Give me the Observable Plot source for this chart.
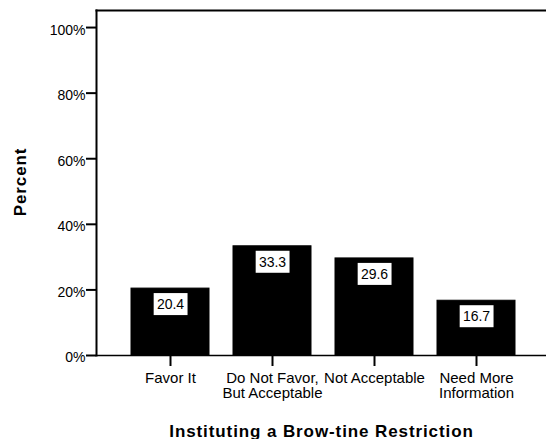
<!DOCTYPE html>
<html>
<head>
<meta charset="utf-8">
<script src="https://cdn.jsdelivr.net/npm/d3@7"></script>
<script src="https://cdn.jsdelivr.net/npm/@observablehq/plot@0.6"></script>
<style>
  html, body { margin: 0; padding: 0; background: #fff; }
  svg { font-family: "Liberation Sans", Arial, sans-serif; }
</style>
</head>
<body>
<div id="chart"></div>
<script>
const categories = ["Favor It", "Do Not Favor,\nBut Acceptable", "Not Acceptable", "Need More\nInformation"];
const percents = [20.4, 33.3, 29.6, 16.7];
const yTicks = [0, 20, 40, 60, 80, 100];
const xTitle = "Instituting a Brow-tine Restriction";
const yTitle = "Percent";

const data = categories.map((c, i) => ({category: c, value: percents[i]}));

const chart = Plot.plot({
  width: 546,
  height: 439,
  marginLeft: 96,
  marginRight: 0,
  marginTop: 10,
  marginBottom: 84,
  style: {fontFamily: "Liberation Sans, Arial, sans-serif", background: "#fff"},
  x: {type: "band", domain: categories, range: [118.8, 528.4], paddingInner: 0.232, paddingOuter: 0.116, label: null},
  y: {domain: [0, 105.2], label: null},
  marks: [
    Plot.barY(data, {x: "category", y: "value", fill: "black", stroke: "black", strokeWidth: 1}),
    Plot.frame({anchor: "top", stroke: "black", strokeWidth: 2}),
    Plot.frame({anchor: "left", stroke: "black", strokeWidth: 2}),
    Plot.frame({anchor: "bottom", stroke: "black", strokeWidth: 1.3}),
    Plot.axisY({ticks: yTicks, tickSize: 10, tickFormat: () => "", strokeWidth: 2, stroke: "black"}),
    Plot.axisY({ticks: yTicks, tickSize: 0, tickPadding: 11, tickFormat: d => d + "%", fontSize: 14, dy: 2.5, fill: "black"}),
    Plot.axisX({tickSize: 11, tickPadding: 5.5, fontSize: 15, strokeWidth: 2, stroke: "black", fill: "black", lineHeight: 1}),
    Plot.text(data, {x: "category", y: "value", text: d => d.value.toFixed(1), dy: 16, fontSize: 14, fill: "black", lineAnchor: "middle"}),
    Plot.text([xTitle], {frameAnchor: "bottom", dy: 81, lineAnchor: "bottom", fontSize: 17, fontWeight: "bold", fill: "black"}),
    Plot.text([yTitle], {frameAnchor: "left", textAnchor: "middle", dx: -71, dy: -1, rotate: -90, lineAnchor: "bottom", fontSize: 17, fontWeight: "bold", fill: "black"})
  ]
});

document.getElementById("chart").appendChild(chart);

const svg = d3.select(chart);
svg.selectAll("text").each(function() {
  const t = this.textContent;
  if (t === xTitle || t === yTitle) {
    this.style.letterSpacing = "0.9px";
  }
});
// white boxes behind the value labels
const valueStrings = percents.map(v => v.toFixed(1));
svg.selectAll("text").filter(function() { return valueStrings.includes(this.textContent); }).each(function() {
  const b = this.getBBox();
  const padX = 3.2, padY = 3;
  const tr = this.getAttribute("transform");
  const rect = document.createElementNS("http://www.w3.org/2000/svg", "rect");
  rect.setAttribute("x", b.x - padX);
  rect.setAttribute("y", b.y - padY);
  rect.setAttribute("width", b.width + 2 * padX);
  rect.setAttribute("height", b.height + 2 * padY);
  rect.setAttribute("fill", "white");
  if (tr) rect.setAttribute("transform", tr);
  this.parentNode.insertBefore(rect, this);
});
</script>
</body>
</html>
